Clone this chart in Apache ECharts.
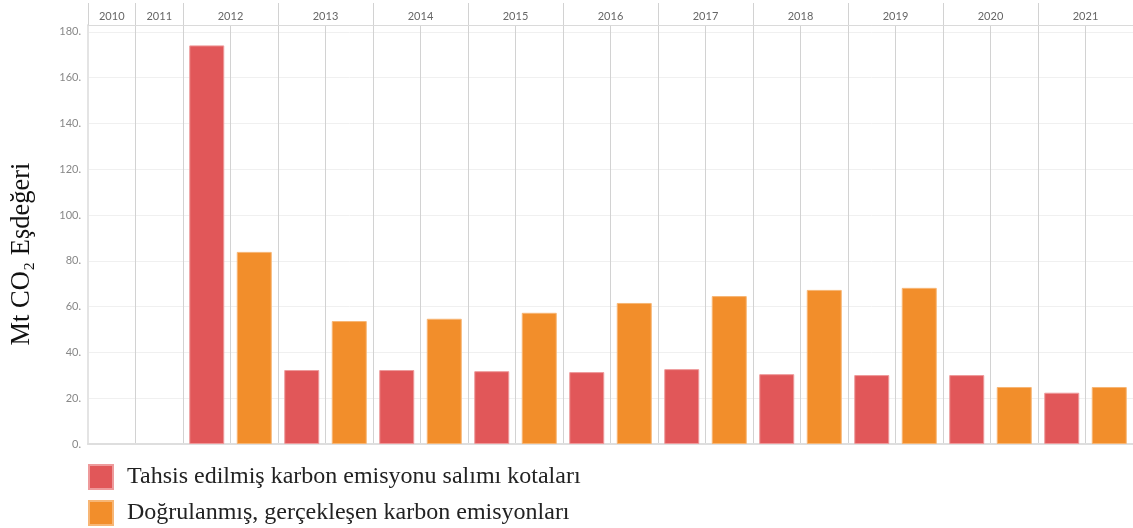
<!DOCTYPE html>
<html>
<head>
<meta charset="utf-8">
<script src="https://cdn.jsdelivr.net/npm/echarts@6/dist/echarts.min.js"></script>
<style>
  html, body { margin: 0; padding: 0; background: #fff; }
  #chart { width: 1133px; height: 528px; }
</style>
</head>
<body>
<div id="chart"></div>
<script>
// years shown in the header, and how many bar slots each one takes
const years = ['2010', '2011', '2012', '2013', '2014', '2015', '2016', '2017', '2018', '2019', '2020', '2021']
const yearSlots = [1, 1, 2, 2, 2, 2, 2, 2, 2, 2, 2, 2]

// values from 2012 to 2021 (Mt CO2 eq.)
const barYears = ['2012', '2013', '2014', '2015', '2016', '2017', '2018', '2019', '2020', '2021']
const allocated = [174.1, 32.3, 32.3, 31.8, 31.4, 32.7, 30.5, 30.1, 30.1, 22.4]
const verified = [83.9, 53.7, 54.7, 57.3, 61.6, 64.6, 67.3, 68.2, 24.9, 24.9]

const yTicks = [0, 20, 40, 60, 80, 100, 120, 140, 160, 180]

const seriesNames = [
  'Tahsis edilmiş karbon emisyonu salımı kotaları',
  'Doğrulanmış, gerçekleşen karbon emisyonları'
]

// one category per slot; red bars on the first slot of a year, orange on the second
const slots = []
const redData = []
const orangeData = []
years.forEach((y, i) => {
  for (let k = 0; k < yearSlots[i]; k++) {
    slots.push(y + '-' + k)
    const j = barYears.indexOf(y)
    redData.push(j >= 0 && k === 0 ? allocated[j] : null)
    orangeData.push(j >= 0 && k === 1 ? verified[j] : null)
  }
})

// header boundaries and label centres (in slot units)
const bounds = [0]
const centres = []
yearSlots.forEach(n => {
  const start = bounds[bounds.length - 1]
  centres.push(start + n / 2)
  bounds.push(start + n)
})

const chart = echarts.init(document.getElementById('chart'))

const options = {
  animation: false,
  grid: { left: 88, top: 25, width: 1048, height: 419 },
  xAxis: [
    {
      type: 'category',
      data: slots,
      position: 'bottom',
      axisLine: { show: true, lineStyle: { color: '#dedede', width: 2 } },
      axisTick: { show: false },
      axisLabel: { show: false, interval: 0 },
      splitLine: { show: true, interval: 0, lineStyle: { color: '#d2d2d2', width: 1 } }
    },
    {
      type: 'value',
      position: 'top',
      min: 0,
      max: bounds[bounds.length - 1],
      axisLine: { show: true, lineStyle: { color: '#dadada', width: 1 } },
      axisTick: {
        show: true,
        customValues: bounds,
        length: 22,
        lineStyle: { color: '#d2d2d2', width: 1 }
      },
      axisLabel: {
        customValues: centres,
        margin: 3,
        fontSize: 11,
        fontFamily: 'Lato',
        color: '#666',
        formatter: v => {
          const i = centres.indexOf(v)
          return i >= 0 ? years[i] : ''
        }
      },
      splitLine: { show: false }
    }
  ],
  yAxis: {
    type: 'value',
    min: 0,
    max: 183,
    interval: 20,
    axisLine: { show: true, lineStyle: { color: '#e4e4e4', width: 2 } },
    axisTick: { show: false },
    axisLabel: {
      margin: 7,
      fontSize: 11,
      fontFamily: 'Lato',
      color: '#888',
      formatter: v => (yTicks.indexOf(v) >= 0 ? v + '.' : '')
    },
    splitLine: { show: true, lineStyle: { color: '#f0f0f0', width: 1 } }
  },
  legend: {
    orient: 'vertical',
    left: 88,
    top: 464,
    padding: 0,
    itemWidth: 24,
    itemHeight: 24,
    itemGap: 10,
    icon: 'rect',
    textStyle: {
      fontFamily: 'Liberation Serif',
      fontSize: 24,
      color: '#222',
      padding: [0, 0, 0, 9]
    },
    data: seriesNames
  },
  graphic: [
    {
      type: 'text',
      x: 22,
      y: 254,
      rotation: Math.PI / 2,
      style: {
        text: 'Mt CO₂ Eşdeğeri',
        fontFamily: 'Liberation Serif',
        fontSize: 26.5,
        fill: '#111',
        align: 'center',
        verticalAlign: 'middle'
      }
    }
  ],
  series: [
    {
      name: seriesNames[0],
      type: 'bar',
      data: redData,
      barWidth: 35,
      barGap: '-100%',
      itemStyle: { color: '#e15759', borderColor: '#ee9a9b', borderWidth: 1 }
    },
    {
      name: seriesNames[1],
      type: 'bar',
      data: orangeData,
      barWidth: 35,
      barGap: '-100%',
      itemStyle: { color: '#f28e2b', borderColor: '#f7b675', borderWidth: 1 }
    }
  ]
}

chart.setOption(options)
</script>
</body>
</html>
